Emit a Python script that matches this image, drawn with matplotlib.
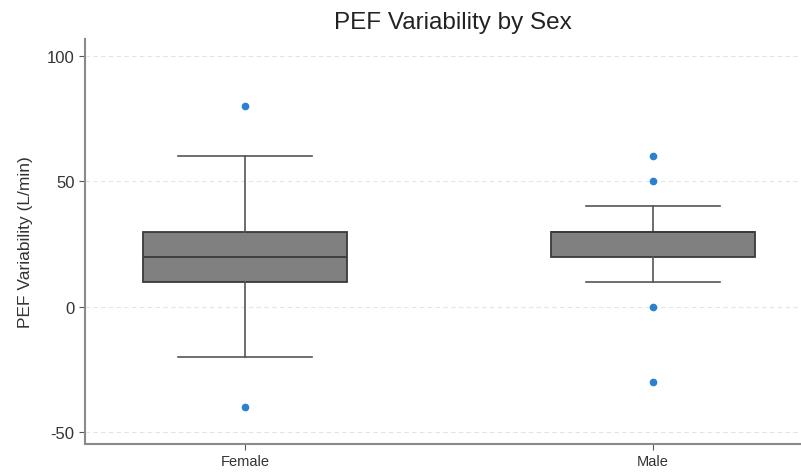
import matplotlib
matplotlib.use("Agg")
import matplotlib.pyplot as plt

plt.rcParams["font.family"] = ["Liberation Sans", "DejaVu Sans"]
plt.rcParams["axes.unicode_minus"] = False

groups = ["Female", "Male"]
q1 = [10, 20]
medians = [20, 30]
q3 = [30, 30]
whislo = [-20, 10]
whishi = [60, 40]
outliers = [[80, -40], [60, 50, 0, -30]]

stats = []
for i, g in enumerate(groups):
    stats.append({
        "label": g, "q1": q1[i], "med": medians[i], "q3": q3[i],
        "whislo": whislo[i], "whishi": whishi[i], "fliers": outliers[i],
    })

fig = plt.figure(figsize=(8.01, 4.77), dpi=100)
ax = fig.add_axes([0.106, 0.067, 0.894, 0.849])

edge = "#3a3a3a"
ax.bxp(
    stats, positions=[0, 1], widths=0.5, patch_artist=True,
    boxprops=dict(facecolor="#808080", edgecolor=edge, linewidth=1.3),
    medianprops=dict(color=edge, linewidth=1.3),
    whiskerprops=dict(color="#555555", linewidth=1.2),
    capprops=dict(color="#555555", linewidth=1.2),
    capwidths=0.33,
    flierprops=dict(marker="o", markerfacecolor="#2b80d0", markeredgecolor="#2b80d0",
                    markersize=4.5, linestyle="none"),
)

ax.set_xlim(-0.392, 1.363)
ax.set_ylim(-54.8, 106.8)
ax.set_yticks([-50, 0, 50, 100])
ax.yaxis.grid(True, color="#e4e4e4", linestyle=(0, (4, 3)), linewidth=0.8)
ax.set_axisbelow(True)
for s in ["top", "right"]:
    ax.spines[s].set_visible(False)
for s in ["left", "bottom"]:
    ax.spines[s].set_color("#8a8a8a")
    ax.spines[s].set_linewidth(1.5)
ax.tick_params(colors="#555555", labelcolor="#333333", length=4)
ax.tick_params(axis="x", labelsize=10.5)
ax.tick_params(axis="y", labelsize=12)
ax.set_ylabel("PEF Variability (L/min)", fontsize=12.5, color="#333333", labelpad=10)
ax.set_title("PEF Variability by Sex", fontsize=17.5, color="#222222", pad=8, x=0.514)

fig.savefig("out.png", dpi=100)
